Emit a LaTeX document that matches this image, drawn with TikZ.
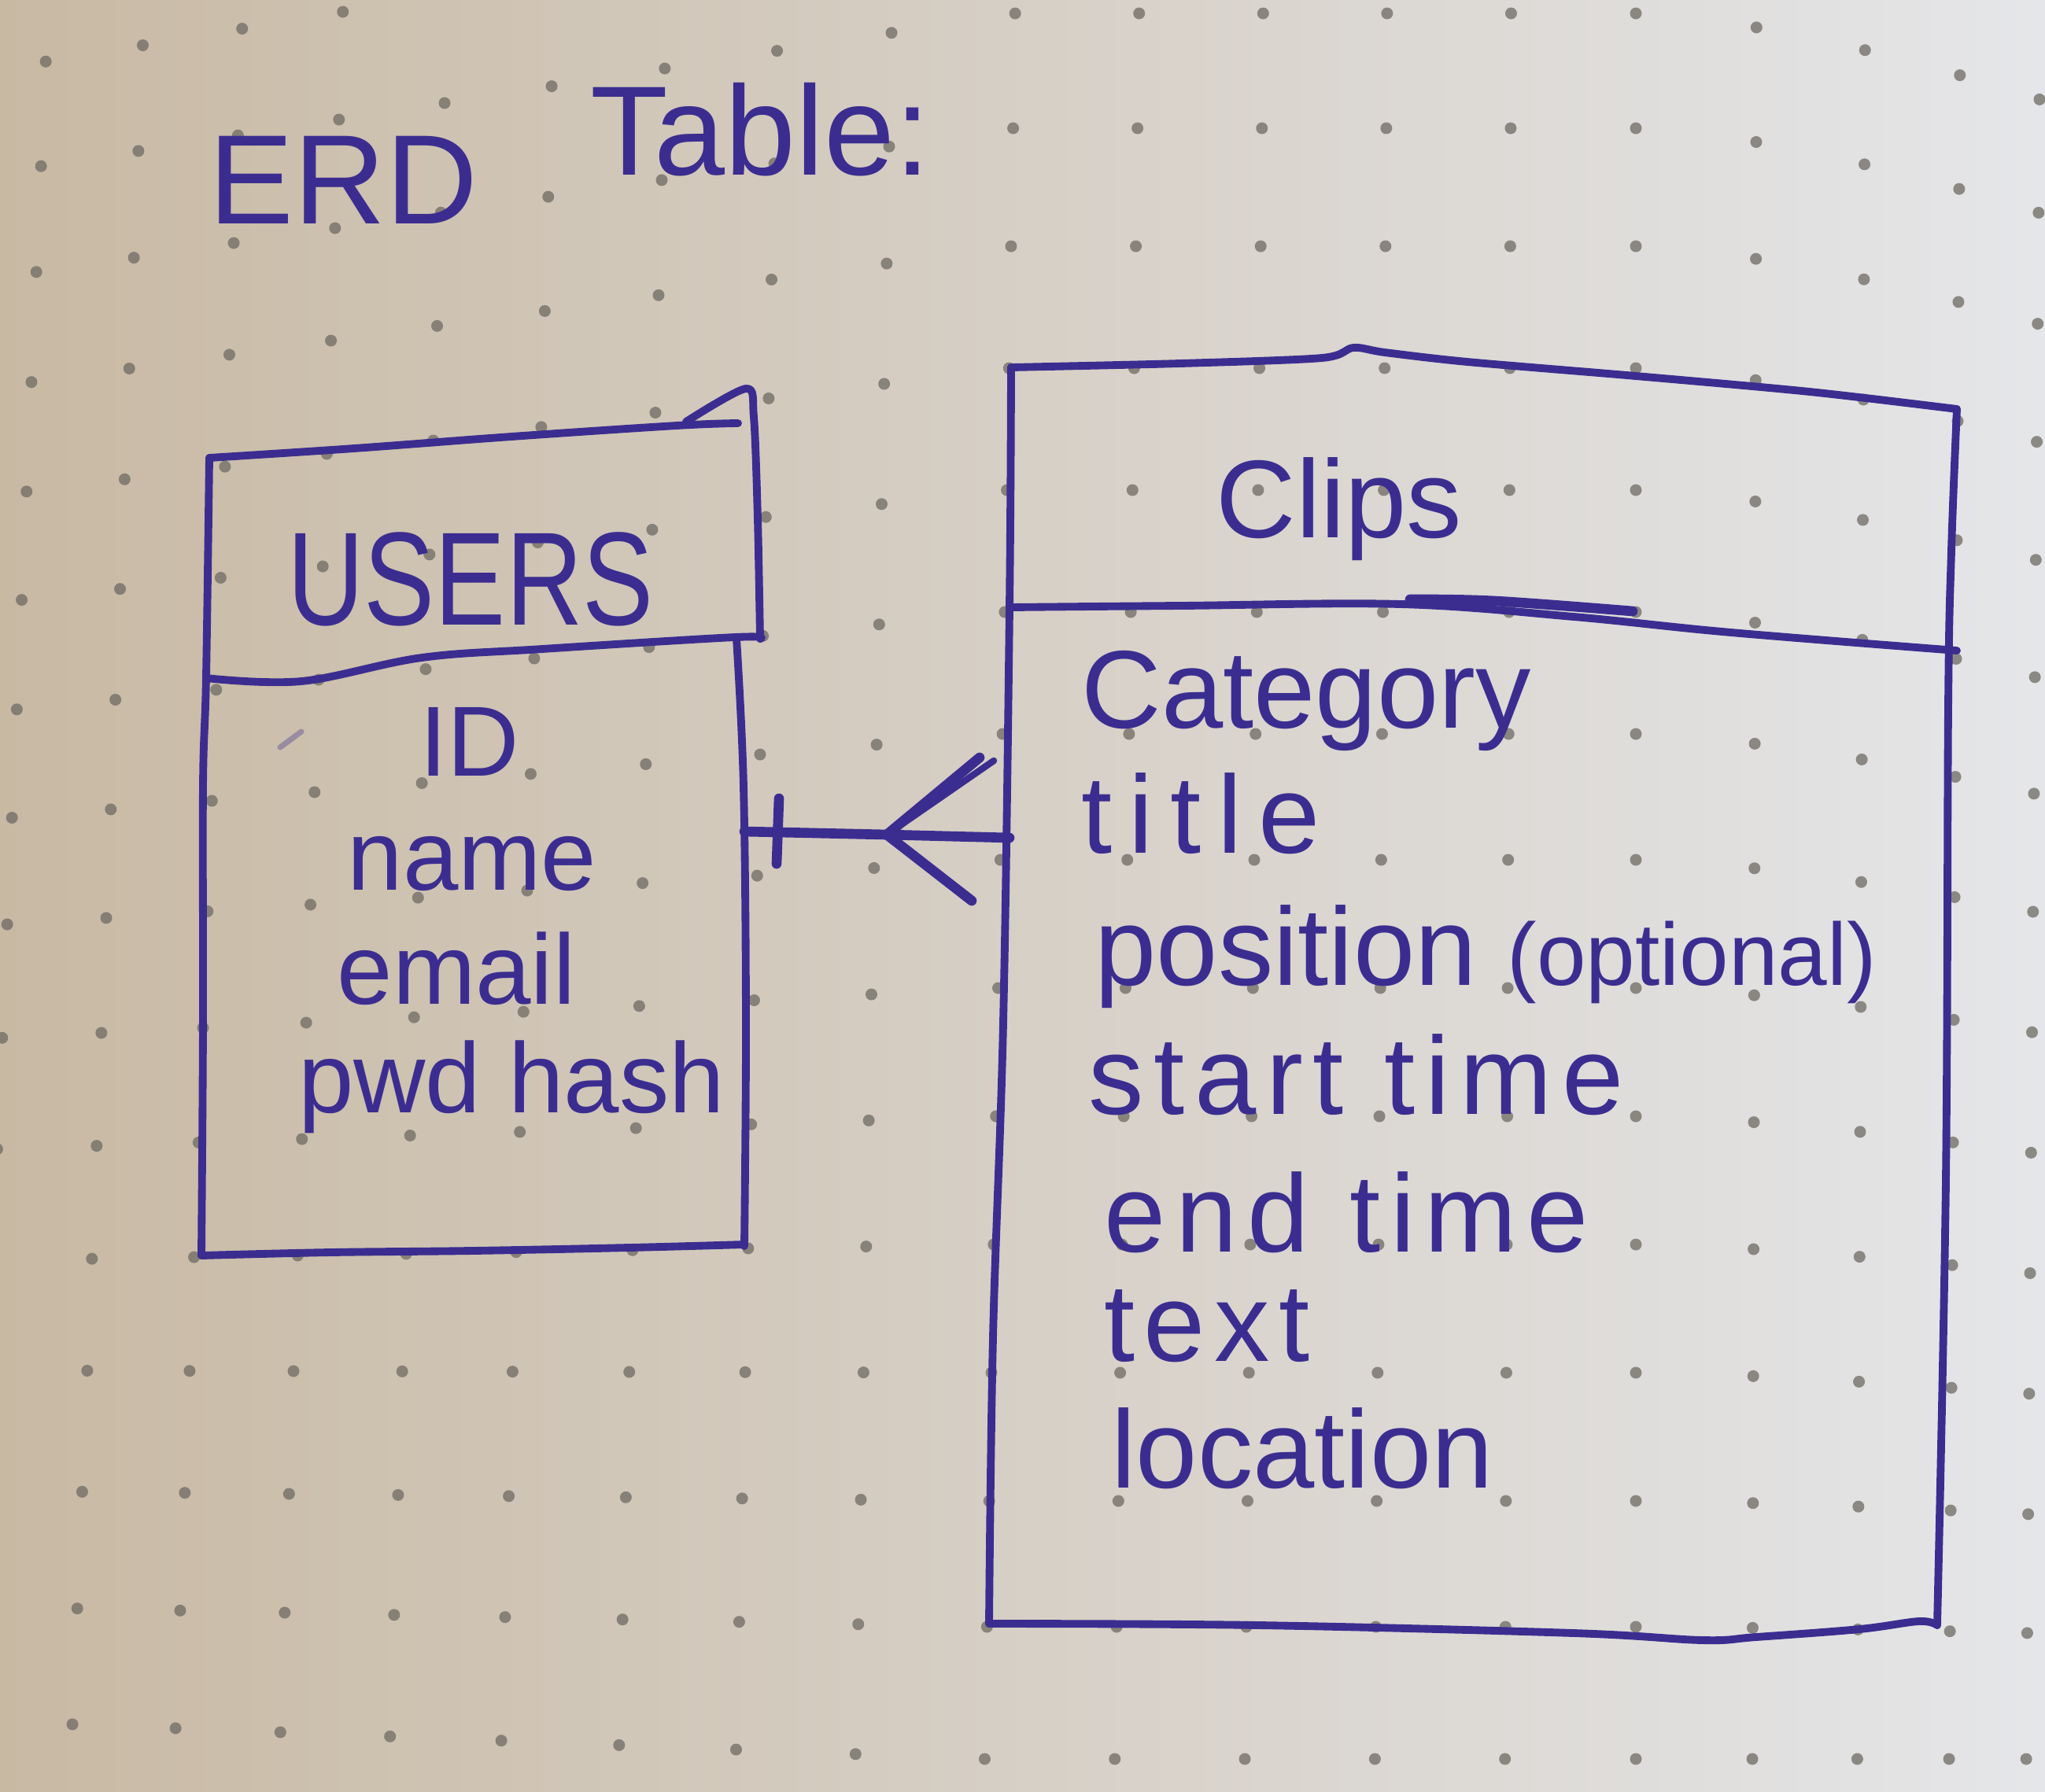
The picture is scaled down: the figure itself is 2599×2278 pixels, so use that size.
\documentclass[tikz,border=0pt]{standalone}
\usepackage{fontspec}
\setmainfont{Liberation Sans}
\usepackage{graphicx}
\definecolor{ink}{HTML}{3B2D90}
\definecolor{paperL}{HTML}{C8B9A3}
\definecolor{paperM}{HTML}{DCD8D1}
\definecolor{paperR}{HTML}{E5E6E9}
\definecolor{dotc}{HTML}{6E6A63}
\tikzset{
  pen/.style={draw=ink, line width=2.8pt, line cap=round, line join=round},
  conn/.style={draw=ink, line width=3.6pt, line cap=round},
  hand/.style={text=ink, inner sep=0pt},
  titletext/.style={hand, font=\fontsize{46}{56}\selectfont},
  headtext/.style={hand, font=\fontsize{48}{56}\selectfont},
  cliphead/.style={hand, font=\fontsize{40}{48}\selectfont},
  uattr/.style={hand, anchor=base, font=\fontsize{36}{42}\selectfont},
  cattr/.style={hand, anchor=base west, font=\fontsize{40}{46}\selectfont},
}
\begin{document}
\begin{tikzpicture}[x=0.01cm,y=-0.01cm]
\useasboundingbox (0,0) rectangle (2599,2278);
\clip (0,0) rectangle (2599,2278);
\shade[left color=paperL, middle color=paperM, right color=paperR] (0,0) rectangle (2599,2278);

% dot grid of the paper
\foreach \j in {0,...,15}{
  \foreach \cx in {17,142,270,400,536,674,820,965,1113,1273,1434,1595,1756,1917,2079,2230,2366,2485,2585}{
    \pgfmathsetmacro\yf{{-129,17,163,313,468,623,778,933,1093,1256,1419,1582,1745,1908,2068,2236}[\j]}
    \pgfmathsetmacro\aa{{144,135,127,120,109,97,86,74,57,44,29,14,-2,-9,-18,-34}[\j]}
    \pgfmathsetmacro\bb{{118,111,109,100,95,90,84,77,67,57,47,37,27,17,8,0}[\j]}
    \pgfmathsetmacro\tl{max(0,(1273-\cx)/873)}
    \pgfmathsetmacro\tr{max(0,(\cx-2079)/511)}
    \pgfmathsetmacro\yy{\yf+\aa*\tl+\bb*\tr*sqrt(\tr)}
    \pgfmathsetmacro\cc{\cx<2079 ? 0.045*(1-\cx/2079) : 0.008*(\cx-2079)/506}
    \pgfmathsetmacro\xx{\cx-\cc*(\yy-1000)}
    \fill[dotc, opacity=0.75] (\xx,\yy) circle[radius=0.075cm];
  }
}

% title
\node[titletext, anchor=base west] (ttlA) at (265,284) {ERD};
\node[titletext, anchor=base west] (ttlB) at (750,222) {Table:};

% USERS box
\draw[pen] plot[smooth, tension=0.6] coordinates {(266,582) (450,570) (650,555) (860,541) (938,538)};
\draw[pen] plot[smooth, tension=0.5] coordinates {(872,536) (948,494) (958,530) (963,660) (966,812)};
\draw[pen] plot[smooth, tension=0.6] coordinates {(262,862) (383,866) (536,836) (689,825) (934,810) (966,812)};
\draw[pen] plot[smooth, tension=0.6] coordinates {(266,582) (262,860) (258,1000) (258,1300) (256,1596)};
\draw[pen] plot[smooth, tension=0.6] coordinates {(936,812) (945,1000) (948,1300) (946,1584)};
\draw[pen] plot[smooth, tension=0.6] coordinates {(256,1596) (420,1592) (600,1590) (800,1586) (946,1582)};
\draw[ink, opacity=0.35, line width=2pt, line cap=round] (356,950) -- (383,930);

\node[headtext, anchor=base] (users) at (598,794) {\scalebox{0.8}[1]{USERS}};
\node[uattr] (uid) at (597,986) {ID};
\node[uattr] (uname) at (600,1131) {name};
\node[uattr] (uemail) at (580,1276) {email};
\node[uattr] (upwd) at (650,1414) {pwd hash};

% Clips box
\draw[pen] plot[smooth, tension=0.5] coordinates {(1285,467) (1500,462) (1680,455) (1720,442) (1760,448) (1865,460) (2079,478) (2300,498) (2487,520)};
\draw[pen] plot[smooth, tension=0.6] coordinates {(2487,520) (2480,700) (2476,900) (2473,1500) (2462,2066)};
\draw[pen] plot[smooth, tension=0.6] coordinates {(1283,772) (1500,770) (1780,768) (2000,784) (2200,804) (2487,827)};
\draw[pen, line width=3.6pt] plot[smooth, tension=0.6] coordinates {(1792,762) (1900,764) (2075,777)};
\draw[pen] plot[smooth, tension=0.6] coordinates {(1285,467) (1283,772) (1275,1300) (1262,1700) (1257,2064)};
\draw[pen] plot[smooth, tension=0.6] coordinates {(1257,2064) (1600,2066) (2000,2076) (2164,2085) (2232,2081) (2363,2071) (2439,2061) (2462,2066)};

\node[cliphead, anchor=base] (clips) at (1702,683) {Clips};
\node[cattr] (ccat) at (1374,925) {Category};
\node[cattr] (ctitle) at (1374,1084) {\addfontfeatures{LetterSpace=15}title};
\node[cattr] (cpos) at (1391,1252) {position {\fontsize{32}{36}\selectfont(optional)}};
\node[cattr] (cstart) at (1383,1416) {\addfontfeatures{LetterSpace=9}start time};
\node[cattr] (cend) at (1403,1591) {\addfontfeatures{LetterSpace=9}end time};
\node[cattr] (ctext) at (1403,1730) {\addfontfeatures{LetterSpace=8}text};
\node[cattr] (cloc) at (1412,1891) {location};

% relationship: one USERS to many Clips
\coordinate (uR) at (946,1057);
\coordinate (fork) at (1127,1061);
\coordinate (cL) at (1283,1065);
\coordinate (pUp) at (1245,963);
\coordinate (pUp2) at (1263,967);
\coordinate (pDn) at (1235,1145);
\coordinate (barT) at (990,1015);
\coordinate (barB) at (987,1098);
\draw[conn] (uR) -- (fork);
\draw[conn] (fork) -- (cL);
\draw[conn] (fork) -- (pUp);
\draw[conn, line width=2.4pt] (fork) -- (pUp2);
\draw[conn] (fork) -- (pDn);
\draw[conn] (barT) -- (barB);
\end{tikzpicture}
\end{document}
